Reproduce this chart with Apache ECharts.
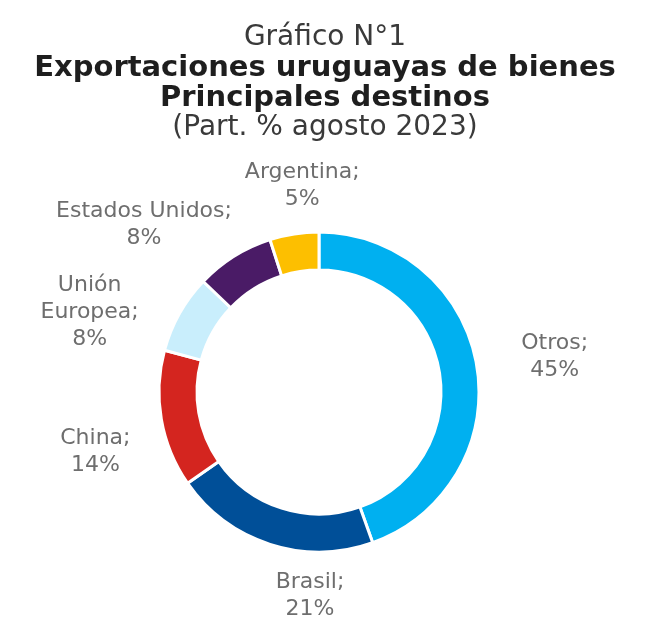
<!DOCTYPE html>
<html>
<head>
<meta charset="utf-8">
<script src="https://cdn.jsdelivr.net/npm/echarts@6/dist/echarts.min.js"></script>
<style>
  html, body { margin: 0; padding: 0; background: #fff; }
  #chart { width: 650px; height: 643px; }
</style>
</head>
<body>
<div id="chart"></div>
<script>
// Data
const destinos = ['Otros', 'Brasil', 'China', 'Unión Europea', 'Estados Unidos', 'Argentina'];
const labelTexts = ['Otros;', 'Brasil;', 'China;', 'Unión\nEuropea;', 'Estados Unidos;', 'Argentina;'];
const participacion = [45, 21, 14, 8, 8, 5];
const colores = ['#00b0f0', '#004f98', '#d4251f', '#c9eefc', '#4a1b66', '#fdbf00'];

// label offsets from the outer edge point of each slice (layout only)
const labelOffsets = [[78, -8], [40, 51], [-66, 33], [-90, -1], [-90, -32], [8, -48]];

const chart = echarts.init(document.getElementById('chart'));

chart.setOption({
  backgroundColor: '#fff',
  animation: false,
  title: {
    left: 'center',
    top: 18,
    text: '{a|Gráfico N°1}\n{b|Exportaciones uruguayas de bienes}\n{b|Principales destinos}\n{a|(Part. % agosto 2023)}',
    textStyle: {
      fontWeight: 'normal',
      rich: {
        a: { fontFamily: 'DejaVu Sans', fontSize: 28, fontWeight: 'normal', color: '#3a3a3a', lineHeight: 30 },
        b: { fontFamily: 'DejaVu Sans', fontSize: 29, fontWeight: 'bold', color: '#1e1e1e', lineHeight: 30 }
      }
    }
  },
  series: [{
    type: 'pie',
    center: [319, 392],
    radius: [122, 160],
    startAngle: 90,
    clockwise: true,
    avoidLabelOverlap: false,
    itemStyle: { borderColor: '#fff', borderWidth: 3 },
    label: {
      show: true,
      position: 'outside',
      fontFamily: 'DejaVu Sans',
      fontSize: 22,
      lineHeight: 27,
      color: '#6e6e6e',
      formatter: p => labelTexts[p.dataIndex] + '\n' + p.value + '%'
    },
    labelLine: { show: true, length: 5, length2: 0, lineStyle: { opacity: 0 } },
    labelLayout: function (params) {
      const off = labelOffsets[params.dataIndex];
      let p0;
      if (params.labelLinePoints && params.labelLinePoints[0]) {
        p0 = params.labelLinePoints[0];
      } else {
        p0 = [params.labelRect.x + params.labelRect.width / 2, params.labelRect.y + params.labelRect.height / 2];
      }
      return {
        x: p0[0] + off[0],
        y: p0[1] + off[1],
        align: 'center',
        verticalAlign: 'middle'
      };
    },
    emphasis: { disabled: true },
    data: destinos.map((d, i) => ({
      name: d,
      value: participacion[i],
      itemStyle: { color: colores[i] }
    }))
  }]
});
</script>
</body>
</html>
